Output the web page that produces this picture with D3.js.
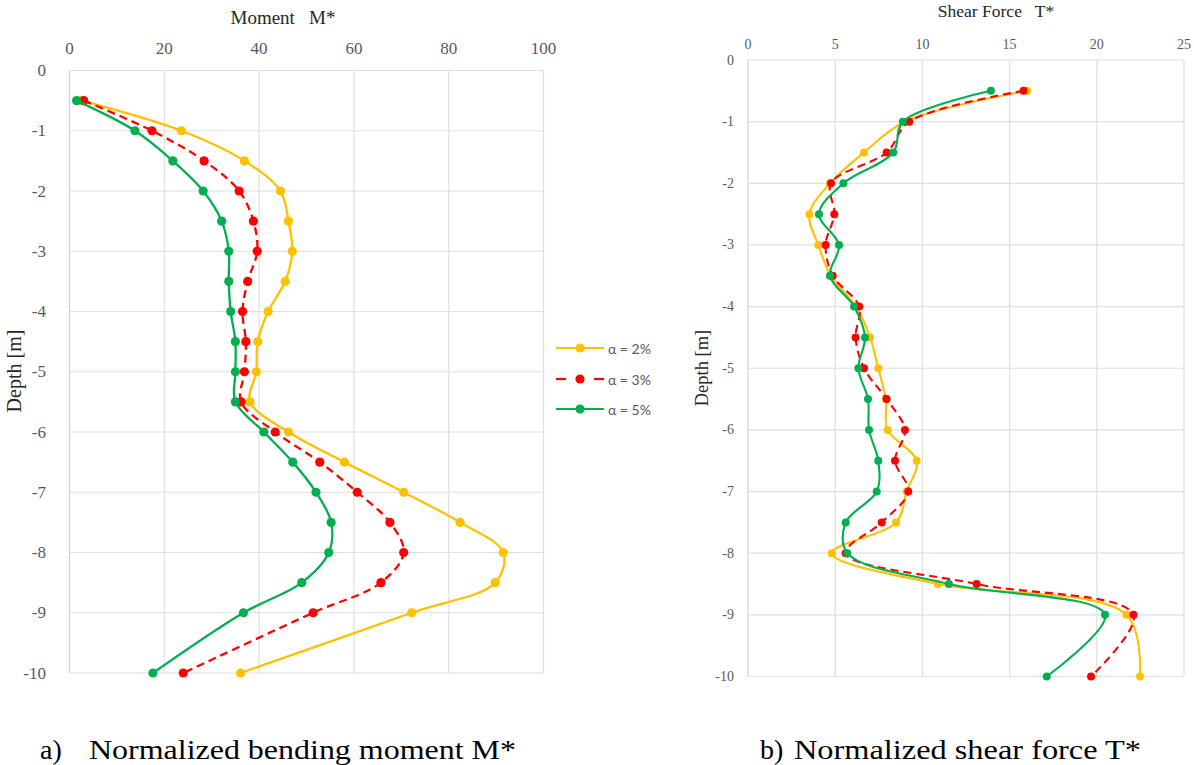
<!DOCTYPE html>
<html>
<head>
<meta charset="utf-8">
<script src="https://cdn.jsdelivr.net/npm/d3@7"></script>
<style>
html,body{margin:0;padding:0;background:#fff;}
svg text{white-space:pre;}
</style>
</head>
<body>
<svg id="chart" width="1194" height="765"></svg>
<script>
// ---------- DATA ----------
const depths = [-0.5,-1,-1.5,-2,-2.5,-3,-3.5,-4,-4.5,-5,-5.5,-6,-6.5,-7,-7.5,-8,-8.5,-9,-10];
const seriesNames = ["α = 2%","α = 3%","α = 5%"];
// Normalized bending moment M*
const moment2 = [2.5,23.6,36.9,44.5,46.2,47.0,45.5,41.9,39.7,39.4,38.1,46.2,58.0,70.5,82.4,91.5,89.8,72.2,36.1];
const moment3 = [3.0,17.4,28.4,35.8,38.8,39.6,37.6,36.5,37.2,36.9,36.2,43.4,52.8,60.7,67.6,70.5,65.7,51.4,24.0];
const moment5 = [1.5,13.8,21.8,28.2,32.1,33.6,33.6,34.0,35.0,35.0,35.0,41.0,47.1,52.0,55.2,54.7,49.0,36.7,17.6];
// Normalized shear force T*
const shear2 = [16.0,9.0,6.65,4.7,3.52,4.03,4.75,6.2,7.0,7.47,7.9,8.01,9.67,9.1,8.49,4.80,10.88,21.7,22.48];
const shear3 = [15.8,9.25,7.95,4.76,4.95,4.45,4.86,6.38,6.17,6.65,7.95,9.0,8.43,9.19,7.67,5.6,13.11,22.1,19.67];
const shear5 = [13.93,8.88,8.33,5.47,4.07,5.22,4.70,6.08,6.71,6.33,6.88,6.94,7.47,7.38,5.60,5.70,11.52,20.47,17.13];
const momentTicks = [0,20,40,60,80,100];
const shearTicks = [0,5,10,15,20,25];
const depthTicks = [0,-1,-2,-3,-4,-5,-6,-7,-8,-9,-10];
const titles = ["Moment   M*","Shear Force   T*"];
const captionLabels = ["a)","b)"];
const captions = ["Normalized bending moment M*","Normalized shear force T*"];

// ---------- STYLE ----------
const colors = ["#FFC000","#FF0000","#00B050"];
const dashes = [null,"8,5",null];
const serif = "'Liberation Serif','Times New Roman',serif";
const sans = "'Lato','Liberation Sans',Arial,sans-serif";
const svg = d3.select("#chart");

function panel(opt){
  const {x, y, data, ticks, title, lw, r, fs, tickFs, titleX, titleY, xTickY, yTickX, depthX, depthY, depthFs} = opt;
  const g = svg.append("g");
  g.selectAll(".vg").data(ticks).join("line")
    .attr("x1",d=>x(d)).attr("x2",d=>x(d))
    .attr("y1",y(0)).attr("y2",y(-10))
    .attr("stroke",(d,i)=>i===0?"#d0d0d0":"#e0e0e0").attr("stroke-width",1.2);
  g.selectAll(".hg").data(depthTicks).join("line")
    .attr("x1",x(ticks[0])).attr("x2",x(ticks[ticks.length-1]))
    .attr("y1",d=>y(d)).attr("y2",d=>y(d))
    .attr("stroke","#e0e0e0").attr("stroke-width",1.2);
  g.selectAll(".xt").data(ticks).join("text")
    .attr("x",d=>x(d)).attr("y",xTickY)
    .attr("text-anchor","middle").attr("dominant-baseline","central")
    .attr("font-family",serif).attr("font-size",tickFs).attr("fill","#595959")
    .text(d=>d);
  g.selectAll(".yt").data(depthTicks).join("text")
    .attr("x",yTickX).attr("y",d=>y(d))
    .attr("text-anchor","end").attr("dominant-baseline","central")
    .attr("font-family",serif).attr("font-size",tickFs).attr("fill","#595959")
    .text(d=>d);
  g.append("text").attr("x",titleX).attr("y",titleY)
    .attr("text-anchor","middle").attr("dominant-baseline","central")
    .attr("font-family",serif).attr("font-size",fs).attr("fill","#262626")
    .text(title);
  g.append("text").attr("transform",`translate(${depthX},${depthY}) rotate(-90)`)
    .attr("text-anchor","middle").attr("dominant-baseline","central")
    .attr("font-family",serif).attr("font-size",depthFs).attr("fill","#262626")
    .text("Depth [m]");
  const line = d3.line().x(d=>x(d[0])).y(d=>y(d[1])).curve(d3.curveCatmullRom.alpha(0.5));
  data.forEach((vals,k)=>{
    const pts = vals.map((v,i)=>[v,depths[i]]);
    g.append("path").attr("d",line(pts)).attr("fill","none")
      .attr("stroke",colors[k]).attr("stroke-width",lw)
      .attr("stroke-dasharray",dashes[k]);
    g.selectAll(".m"+k).data(pts).join("circle")
      .attr("cx",d=>x(d[0])).attr("cy",d=>y(d[1])).attr("r",r)
      .attr("fill",colors[k]);
  });
}

const xL = d3.scaleLinear().domain([0,100]).range([69.5,543.5]);
const yL = d3.scaleLinear().domain([0,-10]).range([70.5,673]);
const xR = d3.scaleLinear().domain([0,25]).range([748,1184]);
const yR = d3.scaleLinear().domain([0,-10]).range([60,676.5]);

panel({x:xL,y:yL,data:[moment2,moment3,moment5],ticks:momentTicks,title:titles[0],
  lw:2.3,r:4.6,fs:19,tickFs:17,titleX:283,titleY:17,xTickY:48,yTickX:46,depthX:14,depthY:371,depthFs:20});
panel({x:xR,y:yR,data:[shear2,shear3,shear5],ticks:shearTicks,title:titles[1],
  lw:2.1,r:4,fs:17.5,tickFs:14,titleX:996,titleY:11,xTickY:44,yTickX:734,depthX:702,depthY:368,depthFs:18.5});

// legend
const lg = svg.append("g");
const legY = [348,379,409];
seriesNames.forEach((name,k)=>{
  if(k===1){
    lg.append("line").attr("x1",556).attr("x2",566).attr("y1",legY[k]).attr("y2",legY[k])
      .attr("stroke",colors[k]).attr("stroke-width",2.2);
    lg.append("line").attr("x1",594).attr("x2",604).attr("y1",legY[k]).attr("y2",legY[k])
      .attr("stroke",colors[k]).attr("stroke-width",2.2);
  } else {
    lg.append("line").attr("x1",556).attr("x2",604).attr("y1",legY[k]).attr("y2",legY[k])
      .attr("stroke",colors[k]).attr("stroke-width",2.2);
  }
  lg.append("circle").attr("cx",580).attr("cy",legY[k]).attr("r",4.6).attr("fill",colors[k]);
  lg.append("text").attr("x",608).attr("y",legY[k]).attr("dominant-baseline","central")
    .attr("font-family",sans).attr("font-size",14).attr("fill","#595959").text(name);
});

// captions
const capX = [40,760], capTextX = [89,794], capLen = [427,347];
[0,1].forEach(i=>{
  svg.append("text").attr("x",capX[i]).attr("y",749).attr("dominant-baseline","central")
    .attr("font-family",serif).attr("font-size",28).attr("fill","#000").text(captionLabels[i]);
  svg.append("text").attr("x",capTextX[i]).attr("y",749).attr("dominant-baseline","central")
    .attr("font-family",serif).attr("font-size",28).attr("fill","#000")
    .attr("textLength",capLen[i]).attr("lengthAdjust","spacingAndGlyphs")
    .text(captions[i]);
});
</script>
</body>
</html>
